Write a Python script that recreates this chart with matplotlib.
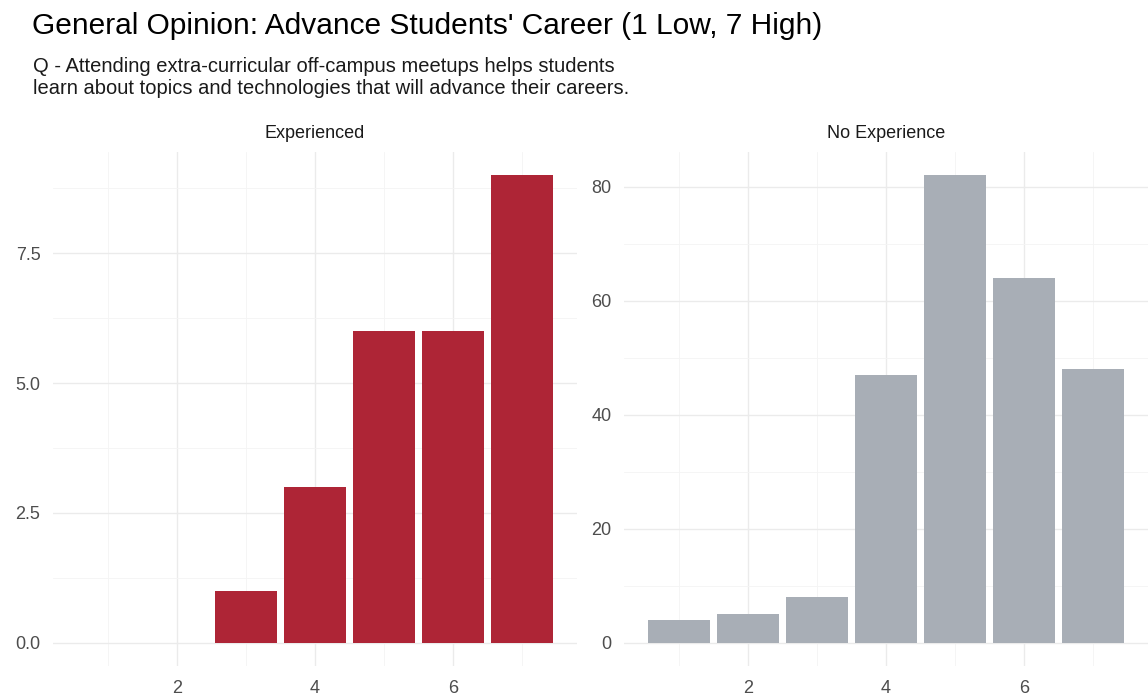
import numpy as np
import matplotlib.pyplot as plt
from matplotlib.ticker import MultipleLocator

plt.rcParams['font.family'] = ['Liberation Sans', 'DejaVu Sans']

# Ratings 1..7, counts per group
exp_x = [3, 4, 5, 6, 7]
exp_n = [1, 3, 6, 6, 9]
noexp_x = [1, 2, 3, 4, 5, 6, 7]
noexp_n = [4, 5, 8, 47, 82, 64, 48]

panels = ['Experienced', 'No Experience']
colors = ['#AE2536', '#A8AEB6']

W, H = 1148, 700
fig = plt.figure(figsize=(W / 100, H / 100), dpi=100)

def box(x0, x1, y0, y1):
    return [x0 / W, 1 - y1 / H, (x1 - x0) / W, (y1 - y0) / H]

ax1 = fig.add_axes(box(53, 577, 152, 666))
ax2 = fig.add_axes(box(624, 1148, 152, 666))

data = [(exp_x, exp_n), (noexp_x, noexp_n)]
xmin, xmax = 0.55, 7.45
xr = xmax - xmin
for ax, (xs, ns), col, name, yt in zip([ax1, ax2], data, colors, panels, [2.5, 20]):
    ax.bar(xs, ns, width=0.9, color=col, zorder=3)
    ymax = max(ns)
    ax.set_xlim(xmin - 0.05 * xr, xmax + 0.05 * xr)
    ax.set_ylim(-0.05 * ymax, ymax * 1.05)
    ax.xaxis.set_major_locator(MultipleLocator(2))
    ax.xaxis.set_minor_locator(MultipleLocator(1))
    ax.yaxis.set_major_locator(MultipleLocator(yt))
    ax.yaxis.set_minor_locator(MultipleLocator(yt / 2))
    ax.grid(which='major', color='#EBEBEB', linewidth=1.0, zorder=0)
    ax.grid(which='minor', color='#F4F4F4', linewidth=0.6, zorder=0)
    for s in ax.spines.values():
        s.set_visible(False)
    ax.tick_params(which='both', length=0, labelsize=13, labelcolor='#4D4D4D')
    ax.tick_params(axis='x', pad=10)
    ax.tick_params(axis='y', pad=9)
    ax.set_title(name, fontsize=13, color='#1A1A1A', pad=10)

ax1.yaxis.set_major_formatter(plt.FuncFormatter(lambda v, p: f'{v:.1f}'))
ax2.yaxis.set_major_formatter(plt.FuncFormatter(lambda v, p: f'{v:.0f}'))

fig.text(32 / W, 1 - 34 / H, "General Opinion: Advance Students' Career (1 Low, 7 High)",
         fontsize=21.5, color='#000000', va='baseline')
fig.text(33 / W, 1 - 72 / H, "Q - Attending extra-curricular off-campus meetups helps students",
         fontsize=14.5, color='#1A1A1A', va='baseline')
fig.text(33 / W, 1 - 94 / H, "learn about topics and technologies that will advance their careers.",
         fontsize=14.5, color='#1A1A1A', va='baseline')

fig.savefig('out.png', dpi=100)
